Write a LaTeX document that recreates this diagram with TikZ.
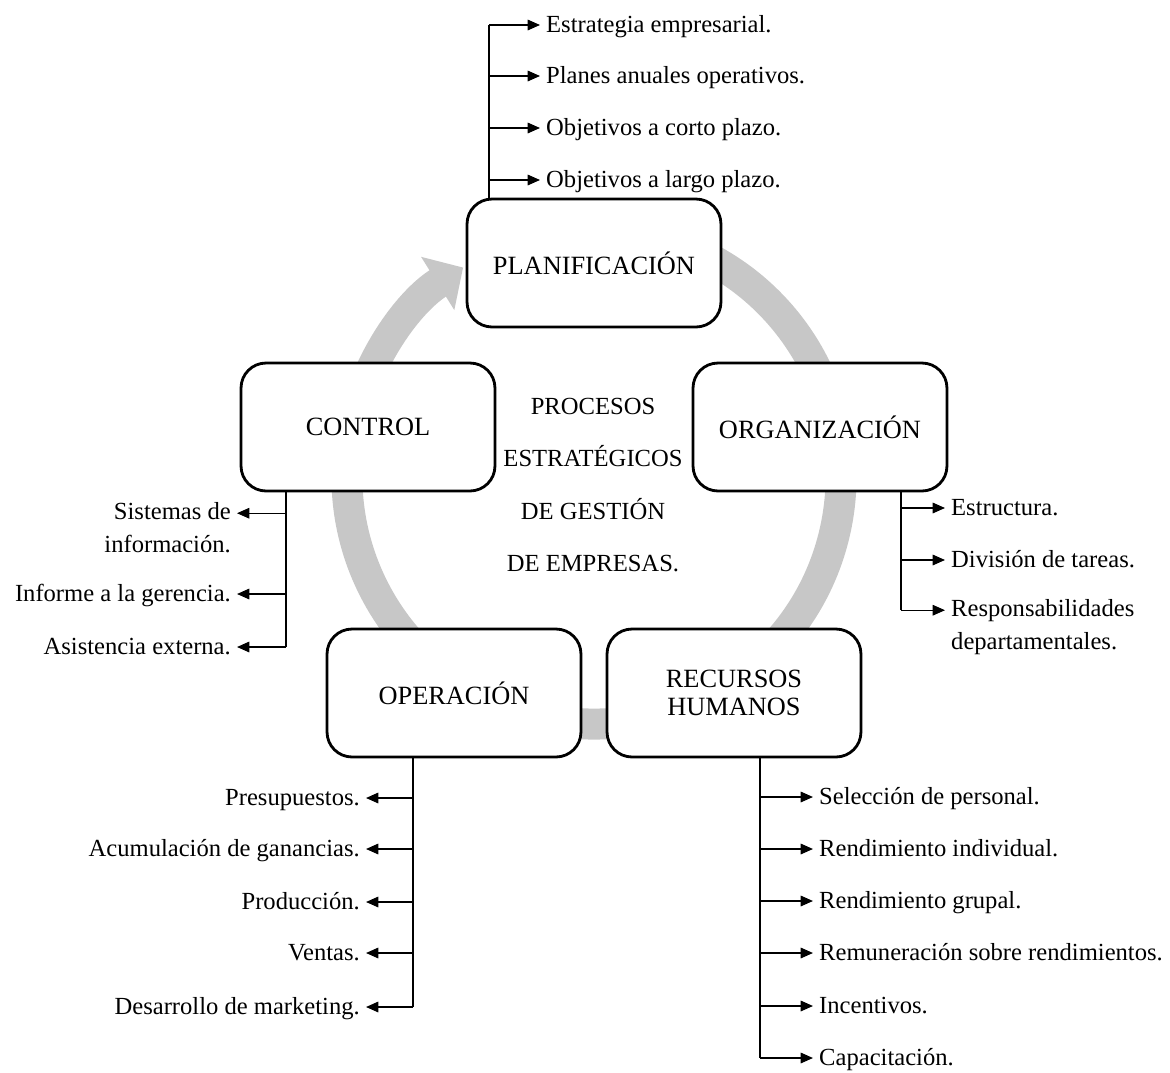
\documentclass[tikz,border=0pt]{standalone}
\usepackage{fontspec}
\setmainfont{Liberation Serif}
\usetikzlibrary{arrows.meta,calc}
\begin{document}
\begin{tikzpicture}[x=0.02cm,y=-0.02cm]
	\tikzset{>={Triangle[length=7pt,width=6pt]}}
	\tikzset{proc/.style={draw,line width=1.6pt,rounded corners=0.5cm,fill=white,minimum width=5.08cm,minimum height=2.56cm,align=center,font=\fontsize{15}{15.5}\selectfont}}
	\tikzset{item/.style={font=\fontsize{14}{19}\selectfont,text height=12pt,text depth=3pt}}
	\tikzset{itemtwo/.style={font=\fontsize{14}{19}\selectfont}}
	\tikzset{link/.style={line width=0.8pt}}
	\useasboundingbox (0,0) rectangle (1170,1072);
	% ciclo gris
	\coordinate (C) at (594,477);
	\draw [line width=0.62cm,color=black!22,-{Triangle[width=1.22cm,length=0.6cm]}] ($(C)+(-75:247)$) arc [start angle=-75,end angle=238,radius=247];
	% procesos
	\node [proc] (plan) at (594,263) {PLANIFICACIÓN};
	\node [proc] (ctrl) at (368,427) {CONTROL};
	\node [proc] (org) at (820,427) {ORGANIZACIÓN};
	\node [proc] (oper) at (454,693) {OPERACIÓN};
	\node [proc] (rh) at (734,693) {RECURSOS\\HUMANOS};
	\node [align=center,font=\fontsize{14}{29.7}\selectfont] (title) at (593,485) {PROCESOS\\ESTRATÉGICOS\\DE GESTIÓN\\DE EMPRESAS.};
	% planificacion
	\coordinate (pb) at (489,25);
	\node [item,anchor=west] (p1) at (540,25) {Estrategia empresarial.};
	\node [item,anchor=west] (p2) at (540,76) {Planes anuales operativos.};
	\node [item,anchor=west] (p3) at (540,128) {Objetivos a corto plazo.};
	\node [item,anchor=west] (p4) at (540,180) {Objetivos a largo plazo.};
	\draw [link] (plan.north -| pb) -- (pb);
	\draw [link,->] (pb) -- (p1.west);
	\draw [link,->] (pb |- p2.west) -- (p2.west);
	\draw [link,->] (pb |- p3.west) -- (p3.west);
	\draw [link,->] (pb |- p4.west) -- (p4.west);
	% control
	\coordinate (cb) at (286,647);
	\node [itemtwo,align=right,anchor=north east] (c1) at (237,496) {Sistemas de\\información.};
	\coordinate (c1e) at ([yshift=-9.8pt]c1.north east);
	\node [item,anchor=east] (c2) at (237,594) {Informe a la gerencia.};
	\node [item,anchor=east] (c3) at (237,647) {Asistencia externa.};
	\draw [link] (ctrl.south -| cb) -- (cb);
	\draw [link,->] (cb |- c1e) -- (c1e);
	\draw [link,->] (cb |- c2.east) -- (c2.east);
	\draw [link,->] (cb) -- (c3.east);
	% organizacion
	\coordinate (gb) at (901,610);
	\node [item,anchor=west] (g1) at (945,508) {Estructura.};
	\node [item,anchor=west] (g2) at (945,560) {División de tareas.};
	\node [itemtwo,align=left,anchor=north west] (g3) at (945,593) {Responsabilidades\\departamentales.};
	\coordinate (g3w) at ([yshift=-9.8pt]g3.north west);
	\draw [link] (org.south -| gb) -- (gb);
	\draw [link,->] (gb |- g1.west) -- (g1.west);
	\draw [link,->] (gb |- g2.west) -- (g2.west);
	\draw [link,->] (gb |- g3w) -- (g3w);
	% operacion
	\coordinate (ob) at (413,1007);
	\node [item,anchor=east] (o1) at (366,798) {Presupuestos.};
	\node [item,anchor=east] (o2) at (366,849) {Acumulación de ganancias.};
	\node [item,anchor=east] (o3) at (366,902) {Producción.};
	\node [item,anchor=east] (o4) at (366,953) {Ventas.};
	\node [item,anchor=east] (o5) at (366,1007) {Desarrollo de marketing.};
	\draw [link] (oper.south -| ob) -- (ob);
	\draw [link,->] (ob |- o1.east) -- (o1.east);
	\draw [link,->] (ob |- o2.east) -- (o2.east);
	\draw [link,->] (ob |- o3.east) -- (o3.east);
	\draw [link,->] (ob |- o4.east) -- (o4.east);
	\draw [link,->] (ob) -- (o5.east);
	% recursos humanos
	\coordinate (rb) at (760,1058);
	\node [item,anchor=west] (r1) at (813,797) {Selección de personal.};
	\node [item,anchor=west] (r2) at (813,849) {Rendimiento individual.};
	\node [item,anchor=west] (r3) at (813,901) {Rendimiento grupal.};
	\node [item,anchor=west] (r4) at (813,953) {Remuneración sobre rendimientos.};
	\node [item,anchor=west] (r5) at (813,1006) {Incentivos.};
	\node [item,anchor=west] (r6) at (813,1058) {Capacitación.};
	\draw [link] (rh.south -| rb) -- (rb);
	\draw [link,->] (rb |- r1.west) -- (r1.west);
	\draw [link,->] (rb |- r2.west) -- (r2.west);
	\draw [link,->] (rb |- r3.west) -- (r3.west);
	\draw [link,->] (rb |- r4.west) -- (r4.west);
	\draw [link,->] (rb |- r5.west) -- (r5.west);
	\draw [link,->] (rb) -- (r6.west);
\end{tikzpicture}
\end{document}
